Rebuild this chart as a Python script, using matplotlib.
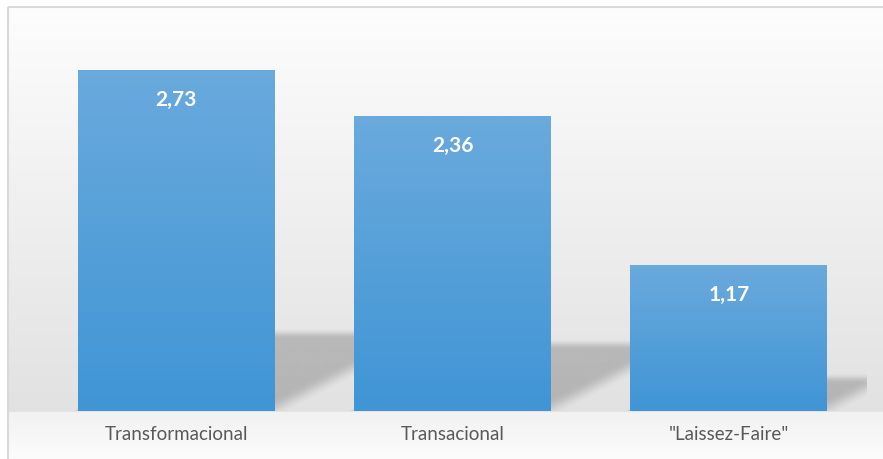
import numpy as np
import matplotlib
matplotlib.use("Agg")
import matplotlib.pyplot as plt
from matplotlib.patches import Rectangle

# data
categories = ["Transformacional", "Transacional", "\"Laissez-Faire\""]
values = [2.73, 2.36, 1.17]
value_labels = ["2,73", "2,36", "1,17"]

W, H, DPI = 883, 459, 100
fig = plt.figure(figsize=(W / DPI, H / DPI), dpi=DPI)
fig.patch.set_facecolor("white")

# background gradient (pixel coords, y down)
bg = fig.add_axes([0, 0, 1, 1], zorder=0)
bg.set_xlim(0, W)
bg.set_ylim(H, 0)
bg.axis("off")
yy = np.arange(H) + 0.5
shade = np.where(
    yy < 411,
    np.interp(yy, [8, 411], [0.99, 0.885]),
    np.interp(yy, [411, 459], [0.948, 0.988]),
)
img = np.repeat(shade[:, None], 4, axis=1)
bg.imshow(np.dstack([img] * 3), extent=[8, W, H, 8], aspect="auto",
          interpolation="bilinear")
bg.add_patch(Rectangle((8, 7), W, H, fill=False, edgecolor="#d9d9d9", lw=1.5))

# main axes
ax = fig.add_axes([38.3 / W, (H - 411) / H, (867 - 38.3) / W, 375 / H], zorder=1)
ax.patch.set_alpha(0)
x = np.arange(len(categories))
ax.set_xlim(-0.5, len(categories) - 0.5)
ax.set_ylim(0, 3)
bars = ax.bar(x, values, width=0.713, color="none", edgecolor="none", zorder=3)

# soft floor shadows behind bars
px_x = (867 - 38.3) / 3.0
px_y = 375 / 3.0
gx = np.linspace(-0.5, 2.5, 900)
gy = np.linspace(0, 3, 380)
GX, GY = np.meshgrid(gx, gy)
alpha = np.zeros_like(GX)
for b, v in zip(bars, values):
    xl, xr = b.get_x(), b.get_x() + b.get_width()
    s = 0.23 * v
    dx = 0.45 * v * px_y / px_x
    t = np.clip(GY / s, 0, None)
    shift = t * dx
    d_right = (xr + shift - GX) * px_x * 0.55
    d_left = (GX - xl - shift) * px_x
    d_top = (s - GY) * px_y
    a = (np.clip(d_right / 22 + 0.4, 0, 1) * np.clip(d_left / 12 + 0.5, 0, 1)
         * np.clip(d_top / 11 + 0.4, 0, 1))
    a = a * a * (3 - 2 * a)
    alpha = np.maximum(alpha, a)
rgba = np.zeros(GX.shape + (4,))
rgba[..., 3] = alpha * 0.2
ax.imshow(rgba, extent=[-0.5, 2.5, 0, 3], origin="lower", aspect="auto",
          interpolation="bilinear", zorder=2)

# gradient-filled bars
top_c = np.array([106, 170, 221]) / 255
bot_c = np.array([64, 149, 213]) / 255
grad = np.linspace(0, 1, 256)[:, None]
cols = bot_c[None, :] * (1 - grad) + top_c[None, :] * grad
cols = cols[:, None, :]
for b, lab in zip(bars, value_labels):
    x0, w, h = b.get_x(), b.get_width(), b.get_height()
    im = ax.imshow(cols, extent=[x0, x0 + w, 0, h], origin="lower",
                   aspect="auto", zorder=3)
    im.set_clip_path(b)
    ax.annotate(lab, (x0 + w / 2, h), xytext=(0, -21.5), textcoords="offset points",
                ha="center", va="center", color="white", fontsize=15,
                fontweight="bold", family="Lato", zorder=4)

ax.set_xticks(x)
ax.set_xticklabels(categories, fontsize=13.5, color="#595959", family="Lato")
ax.tick_params(axis="x", length=0, pad=11)
ax.set_yticks([])
for sp in ax.spines.values():
    sp.set_visible(False)
ax.set_ylim(0, 3)
ax.set_xlim(-0.5, len(categories) - 0.5)

fig.savefig("out.png", dpi=DPI)
